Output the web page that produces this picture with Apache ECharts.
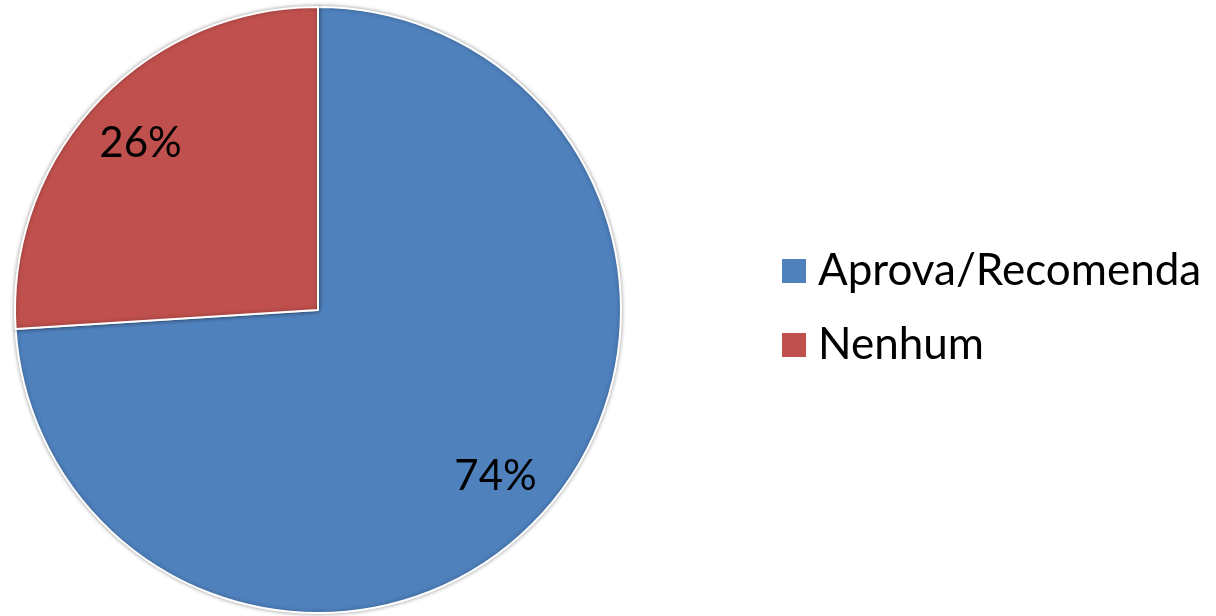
<!DOCTYPE html>
<html>
<head>
    <meta charset="utf-8">
    <script src="https://cdn.jsdelivr.net/npm/echarts@6/dist/echarts.min.js"></script>
    <style>
        html, body { margin: 0; padding: 0; background: #fff; }
    </style>
</head>
<body>
    <div id="main" style="width: 1216px;height:616px;"></div>
    <script>
        // categories and values
        var categories = ['Aprova/Recomenda', 'Nenhum'];
        var values = [74, 26];
        var colors = ['#4F81BD', '#C0504D'];

        var pieData = categories.map(function (name, i) {
            return { name: name, value: values[i], itemStyle: { color: colors[i] } };
        });

        var myChart = echarts.init(document.getElementById('main'));
        var option = {
            animation: false,
            legend: {
                orient: 'vertical',
                left: 782,
                top: 249,
                padding: 0,
                itemWidth: 24,
                itemHeight: 24,
                itemGap: 30,
                icon: 'rect',
                data: categories,
                itemStyle: { borderWidth: 0, shadowBlur: 0 },
                textStyle: {
                    fontFamily: 'Lato',
                    fontSize: 44,
                    lineHeight: 44,
                    color: '#000',
                    padding: [0, 0, 0, 7]
                }
            },
            series: [{
                // the pie itself
                type: 'pie',
                center: [318, 310],
                radius: 303,
                startAngle: 90,
                clockwise: true,
                label: { show: false },
                labelLine: { show: false },
                itemStyle: {
                    borderColor: '#fff',
                    borderWidth: 2,
                    shadowBlur: 4,
                    shadowColor: 'rgba(0,0,0,0.35)'
                },
                emphasis: { disabled: true },
                data: pieData
            }, {
                // transparent ring used only to place labels further out
                type: 'pie',
                center: [318, 310],
                radius: [178, 303],
                startAngle: 90,
                clockwise: true,
                silent: true,
                legendHoverLink: false,
                itemStyle: { color: 'rgba(0,0,0,0)', borderWidth: 0 },
                label: {
                    show: true,
                    position: 'inside',
                    formatter: '{c}%',
                    fontFamily: 'Lato',
                    fontSize: 42,
                    color: '#000'
                },
                labelLine: { show: false },
                emphasis: { disabled: true },
                data: categories.map(function (name, i) {
                    return { name: name + ' ', value: values[i] };
                })
            }]
        };
        myChart.setOption(option);
    </script>
</body>
</html>
